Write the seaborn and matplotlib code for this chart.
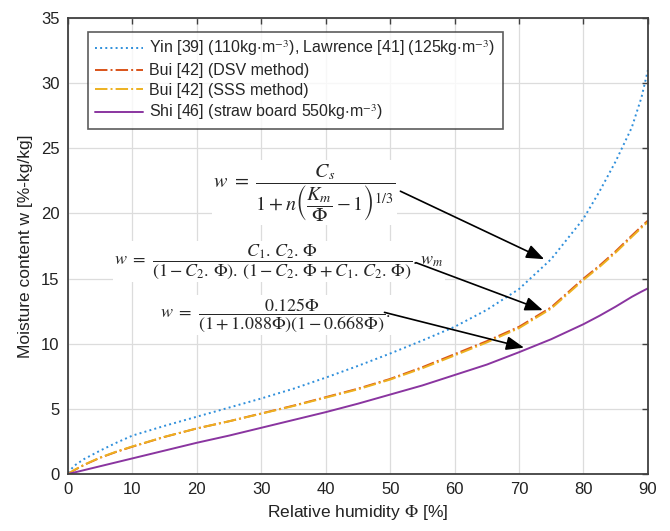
import seaborn as sns
import matplotlib.pyplot as plt
import pandas as pd

# relative humidity [%]
phi = [0, 1, 2.5, 5, 7.5, 10, 15, 20, 25, 30, 35, 40, 45, 50, 55, 60, 65, 70,
       75, 80, 82.5, 85, 87.5, 89, 90]

# moisture content w [%-kg/kg]
yin = [0.1, 0.65, 1.15, 1.8, 2.4, 2.95, 3.7, 4.4, 5.1, 5.8, 6.55, 7.4, 8.3, 9.25,
       10.25, 11.3, 12.6, 14.2, 16.5, 19.6, 21.7, 24.0, 26.6, 28.9, 31.0]
bui_dsv = [0.0, 0.3, 0.7, 1.25, 1.7, 2.1, 2.85, 3.5, 4.05, 4.65, 5.25, 5.9, 6.55,
           7.3, 8.2, 9.2, 10.2, 11.3, 12.8, 15.0, 16.0, 17.1, 18.3, 19.0, 19.45]
bui_sss = [0.0, 0.32, 0.72, 1.27, 1.72, 2.12, 2.86, 3.5, 4.05, 4.63, 5.22, 5.86,
           6.5, 7.25, 8.12, 9.1, 10.1, 11.2, 12.7, 14.9, 15.9, 17.0, 18.2, 18.9, 19.35]
shi = [0.0, 0.12, 0.3, 0.6, 0.9, 1.2, 1.8, 2.4, 2.95, 3.55, 4.15, 4.75, 5.4, 6.1,
       6.8, 7.6, 8.4, 9.35, 10.35, 11.5, 12.15, 12.85, 13.6, 14.0, 14.25]

labels = [r'Yin [39] (110kg$\cdot$m$^{-3}$), Lawrence [41] (125kg$\cdot$m$^{-3}$)',
          'Bui [42] (DSV method)',
          'Bui [42] (SSS method)',
          r'Shi [46] (straw board 550kg$\cdot$m$^{-3}$)']
colors = ['#2f8fdb', '#D95319', '#EDB120', '#8a35a0']
styles = [':', '-.', '-.', '-']

sns.set_theme(style='whitegrid')
plt.rcParams['font.family'] = ['Liberation Sans', 'DejaVu Sans']
plt.rcParams['mathtext.fontset'] = 'stix'

fig = plt.figure(figsize=(6.7, 5.31), dpi=100)
ax = fig.add_axes([0.1015, 0.1073, 0.8655, 0.8587])

for y, lab, c, ls in zip([yin, bui_dsv, bui_sss, shi], labels, colors, styles):
    df = pd.DataFrame({'phi': phi, 'w': y})
    sns.lineplot(data=df, x='phi', y='w', ax=ax, color=c, linestyle=ls,
                 linewidth=1.4, label=lab)

ax.set_xlim(0, 90)
ax.set_ylim(0, 35)
ax.set_xticks(range(0, 91, 10))
ax.set_yticks(range(0, 36, 5))
ax.grid(True, color='#dcdcdc', linewidth=0.9)
ax.set_facecolor('white')
for s in ax.spines.values():
    s.set_color('#404040')
    s.set_linewidth(1.3)
ax.tick_params(direction='in', length=4, width=1, color='#404040',
               top=True, right=True, labelsize=12, labelcolor='#222222', pad=6)
ax.set_xlabel(r'Relative humidity $\Phi$ [%]', fontsize=12.5, color='#222222', labelpad=4)
ax.set_ylabel('Moisture content w [%-kg/kg]', fontsize=12.5, color='#222222', labelpad=6)

leg = ax.legend(loc='upper left', bbox_to_anchor=(0.02, 0.988), fontsize=11.5,
                frameon=True, fancybox=False, edgecolor='#333333',
                handlelength=3.0, handletextpad=0.4, borderpad=0.45,
                labelspacing=0.3)
leg.get_frame().set_linewidth(1.2)

box = dict(facecolor='white', edgecolor='none', pad=1)
ax.text(22.5, 21.6, r'$w\ =\ \dfrac{C_s}{1 + n\left(\dfrac{K_m}{\Phi} - 1\right)^{1/3}}$',
        fontsize=14.5, ha='left', va='center', bbox=box)
ax.text(7.2, 16.3, r'$w\ =\ \dfrac{C_1.\,C_2.\,\Phi}{(1 - C_2.\,\Phi).\,(1 - C_2.\,\Phi + C_1.\,C_2.\,\Phi)}.w_m$',
        fontsize=13, ha='left', va='center', bbox=box)
ax.text(14.3, 12.2, r'$w\ =\ \dfrac{0.125\Phi}{(1 + 1.088\Phi)(1 - 0.668\Phi)}.$',
        fontsize=13, ha='left', va='center', bbox=box)

arrow = dict(arrowstyle='-|>,head_length=0.9,head_width=0.35', color='black', lw=1.2)
ax.annotate('', xy=(74.3, 16.4), xytext=(51.2, 21.8), arrowprops=arrow)
ax.annotate('', xy=(74.1, 12.5), xytext=(53.6, 16.3), arrowprops=arrow)
ax.annotate('', xy=(71.2, 9.65), xytext=(48.7, 12.46), arrowprops=arrow)

fig.savefig('out.png', dpi=100)
